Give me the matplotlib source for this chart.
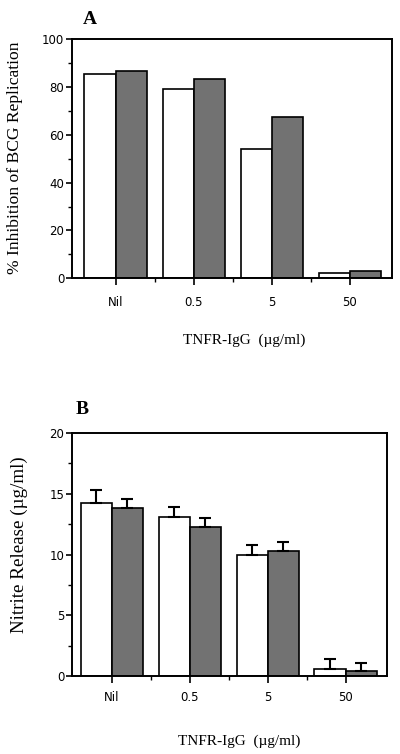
import matplotlib
matplotlib.use("Agg")
import matplotlib.pyplot as plt
import numpy as np
from matplotlib.ticker import MultipleLocator, FixedLocator

categories = ["Nil", "0.5", "5", "50"]
# Panel A: % inhibition of BCG replication
a_open = [85.5, 79.0, 54.0, 2.0]
a_shaded = [86.5, 83.5, 67.5, 3.0]
# Panel B: nitrite release (ug/ml)
b_open = [14.25, 13.1, 10.0, 0.6]
b_open_err = [1.05, 0.8, 0.8, 0.8]
b_shaded = [13.8, 12.3, 10.3, 0.45]
b_shaded_err = [0.8, 0.7, 0.7, 0.6]

SERIF = ["Liberation Serif", "DejaVu Serif"]
SANS = ["DejaVu Sans"]
GREY = "#727272"

fig = plt.figure(figsize=(4.0, 7.54), dpi=100)
axA = fig.add_axes([0.18, 0.631, 0.80, 0.317])
axB = fig.add_axes([0.18, 0.1034, 0.7875, 0.3223])

x = np.arange(len(categories))
w = 0.4

def style(ax, ymax, major, minor, xlim, xpad):
    ax.set_xlim(*xlim)
    ax.set_ylim(0, ymax)
    for s in ax.spines.values():
        s.set_linewidth(1.4)
    ax.yaxis.set_major_locator(MultipleLocator(major))
    ax.yaxis.set_minor_locator(MultipleLocator(minor))
    ax.xaxis.set_major_locator(FixedLocator(x))
    ax.xaxis.set_minor_locator(FixedLocator(x[:-1] + 0.5))
    ax.set_xticklabels(categories, fontfamily=SANS, fontsize=8.5)
    for lab in ax.get_yticklabels():
        lab.set_fontfamily(SANS)
        lab.set_fontsize(8.5)
    ax.tick_params(axis="y", which="major", direction="out", length=4, width=1.2, pad=1.5)
    ax.tick_params(axis="y", which="minor", direction="out", length=3, width=1.0)
    ax.tick_params(axis="x", which="major", direction="out", length=5, width=1.2, pad=xpad)
    ax.tick_params(axis="x", which="minor", direction="out", length=3, width=1.0)

# Panel A
axA.bar(x - w / 2, a_open, w, color="white", edgecolor="black", linewidth=1.2)
axA.bar(x + w / 2, a_shaded, w, color=GREY, edgecolor="black", linewidth=1.2)
style(axA, 100, 20, 10, (-0.56, 3.54), 8)
axA.set_ylabel("% Inhibition of BCG Replication", fontfamily=SERIF, fontsize=12.6)
axA.yaxis.set_label_coords(-0.153, 0.506)

# Panel B
ekw = dict(elinewidth=1.5, capthick=1.5, ecolor="black")
axB.bar(x - w / 2, b_open, w, color="white", edgecolor="black", linewidth=1.2,
        yerr=[np.zeros(4), b_open_err], capsize=4, error_kw=ekw)
axB.bar(x + w / 2, b_shaded, w, color=GREY, edgecolor="black", linewidth=1.2,
        yerr=[np.zeros(4), b_shaded_err], capsize=4, error_kw=ekw)
style(axB, 20, 5, 2.5, (-0.51, 3.53), 6)
axB.set_ylabel("Nitrite Release (\u00b5g/ml)", fontfamily=SERIF, fontsize=13.7)
axB.yaxis.set_label_coords(-0.14, 0.54)

fig.text(90 / 400, 1 - 20 / 754, "A", fontfamily=SERIF, fontweight="bold",
         fontsize=14, ha="center", va="center")
fig.text(82 / 400, 1 - 410 / 754, "B", fontfamily=SERIF, fontweight="bold",
         fontsize=14, ha="center", va="center")
fig.text(244 / 400, 1 - 340 / 754, "TNFR-IgG  (\u00b5g/ml)", fontfamily=SERIF,
         fontsize=11, ha="center", va="center")
fig.text(239 / 400, 1 - 741 / 754, "TNFR-IgG  (\u00b5g/ml)", fontfamily=SERIF,
         fontsize=11, ha="center", va="center")

fig.savefig("out.png", dpi=100)
